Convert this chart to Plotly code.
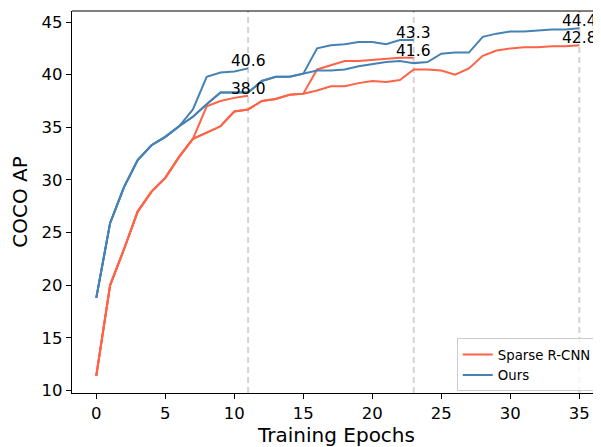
import plotly.graph_objects as go

# ---- data ----
sparse_1x = [11.4, 20.0, 23.4, 27.0, 28.9, 30.2, 32.2, 33.9, 37.0, 37.5, 37.8, 38.0]
sparse_3x = [11.4, 20.0, 23.4, 27.0, 28.9, 30.2, 32.2, 33.9, 34.5, 35.1, 36.5, 36.7,
             37.5, 37.7, 38.1, 38.2, 38.5, 38.9, 38.9, 39.2, 39.4, 39.3, 39.5, 40.5,
             40.5, 40.4, 40.0, 40.6, 41.8, 42.3, 42.5, 42.6, 42.6, 42.7, 42.7, 42.8]
sparse_2x_tail = [40.5, 40.9, 41.3, 41.3, 41.4, 41.5, 41.6, 41.6]  # epochs 16-23

ours_1x = [18.8, 25.9, 29.3, 31.9, 33.3, 34.1, 35.1, 36.7, 39.8, 40.2, 40.3, 40.6]
ours_3x = [18.8, 25.9, 29.3, 31.9, 33.3, 34.1, 35.1, 36.0, 37.2, 38.3, 38.3, 38.3,
           39.4, 39.8, 39.8, 40.1, 40.4, 40.4, 40.5, 40.8, 41.0, 41.2, 41.3, 41.1,
           41.2, 42.0, 42.1, 42.1, 43.6, 43.9, 44.1, 44.1, 44.2, 44.3, 44.3, 44.4]
ours_2x_tail = [42.5, 42.8, 42.9, 43.1, 43.1, 42.9, 43.3, 43.3]  # epochs 16-23

schedule_ends = [11, 23, 35]
x_ticks = [0, 5, 10, 15, 20, 25, 30, 35]
y_ticks = [10, 15, 20, 25, 30, 35, 40, 45]

names = ["Sparse R-CNN", "Ours"]
colors = ["#FF6347", "#4682B4"]

sparse_2x = sparse_3x[:16] + sparse_2x_tail
ours_2x = ours_3x[:16] + ours_2x_tail

FONT = "DejaVu Sans"
fig = go.Figure()

series = [
    (names[0], colors[0], [sparse_1x, sparse_2x, sparse_3x]),
    (names[1], colors[1], [ours_1x, ours_2x, ours_3x]),
]
for name, color, runs in series:
    for i, run in enumerate(runs):
        fig.add_trace(go.Scatter(
            x=list(range(len(run))), y=run, mode="lines",
            line=dict(color=color, width=2),
            name=name, legendgroup=name, showlegend=(i == 0),
        ))

# vertical dashed lines
for e in schedule_ends:
    fig.add_shape(type="line", xref="x", yref="paper", x0=e, x1=e, y0=0, y1=1,
                  line=dict(color="#d3d3d3", width=2, dash="6px,4px"), layer="below")

# top spine
fig.add_shape(type="line", xref="paper", yref="paper", x0=0, x1=1, y0=1, y1=1,
              line=dict(color="black", width=1.2))

# end-value annotations
for name, color, runs in series:
    for run in runs:
        fig.add_annotation(x=len(run) - 1, y=run[-1], text=f"{run[-1]:.1f}",
                           showarrow=False, xanchor="center", yanchor="bottom",
                           yshift=-4, font=dict(family=FONT, size=15.5, color="black"))

# the page body has an 8px margin, so the figure is sized to fit inside it
fig.update_layout(
    width=593, height=439,
    margin=dict(l=64, r=0, t=3, b=54),
    plot_bgcolor="white", paper_bgcolor="white",
    font=dict(family=FONT, color="black"),
    showlegend=True,
    legend=dict(x=0.992, y=0.004, xanchor="right", yanchor="bottom",
                bgcolor="rgba(255,255,255,0.8)", bordercolor="#cccccc", borderwidth=1,
                font=dict(family=FONT, size=13.3, color="black"),
                tracegroupgap=0, itemwidth=30),
    xaxis=dict(range=[-1.76, 36.57], tickvals=x_ticks, showgrid=False, zeroline=False,
               showline=True, linecolor="black", linewidth=1.2,
               ticks="outside", ticklen=5, tickwidth=1.2, tickcolor="black",
               tickfont=dict(family=FONT, size=16.5),
               title=dict(text="Training Epochs", font=dict(family=FONT, size=20), standoff=4)),
    yaxis=dict(range=[9.77, 46.05], tickvals=y_ticks, showgrid=False, zeroline=False,
               showline=True, linecolor="black", linewidth=1.2,
               ticks="outside", ticklen=5, tickwidth=1.2, tickcolor="black",
               tickfont=dict(family=FONT, size=16.5),
               title=dict(text="COCO AP", font=dict(family=FONT, size=20), standoff=8)),
)

fig.write_html("out.html")
